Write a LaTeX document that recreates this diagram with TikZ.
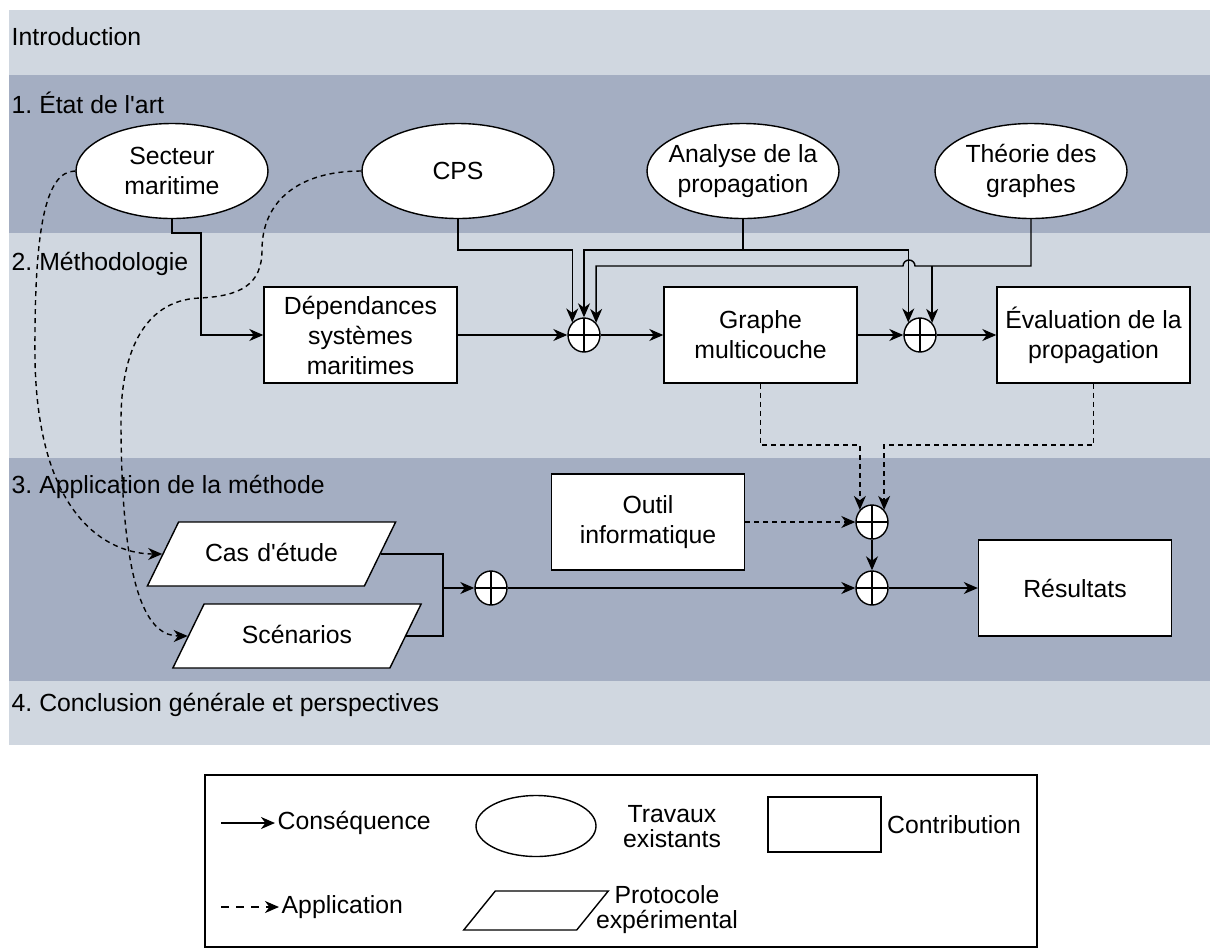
\documentclass[tikz,border=0pt]{standalone}
\usepackage{fontspec}
\setmainfont{Liberation Sans}
\usetikzlibrary{shapes.geometric, arrows.meta}

\definecolor{bandlight}{RGB}{208,215,224}
\definecolor{banddark}{RGB}{164,174,194}

\tikzset{
  bandlabel/.style={anchor=west, inner sep=1pt},
  travaux/.style={ellipse, draw, fill=white, minimum width=96pt, minimum height=47.5pt,
    inner xsep=-4pt, inner ysep=0pt, align=center},
  contrib/.style={rectangle, draw, fill=white, minimum width=96.5pt, minimum height=48pt,
    inner sep=0pt, align=center},
  protocole/.style={trapezium, trapezium left angle=64, trapezium right angle=116,
    draw, fill=white, text width=80pt, align=center, text height=9.5pt, text depth=2.5pt,
    inner xsep=6.45pt, inner ysep=10pt, minimum width=0pt, minimum height=0pt},
  somme/.style={ellipse, draw, fill=white, minimum width=16pt, minimum height=17pt, inner sep=0pt,
    path picture={\draw (path picture bounding box.north) -- (path picture bounding box.south)
      (path picture bounding box.west) -- (path picture bounding box.east);}},
  conseq/.style={-{Stealth[length=7pt, width=6pt, inset=2.2pt]}},
  applic/.style={conseq, dash pattern=on 2.5pt off 2pt},
}

\begin{document}
\frenchspacing
\begin{tikzpicture}[x=0.5pt, y=-0.5pt,
                    line width=0.7pt,
                    font=\fontsize{12.4}{15}\selectfont]
  \useasboundingbox (0,0) rectangle (1210,949);

  % bandes des chapitres
  \fill[bandlight] (9,10) rectangle (1210,75);
  \fill[banddark] (9,75) rectangle (1210,233);
  \fill[bandlight] (9,233) rectangle (1210,458);
  \fill[banddark] (9,458) rectangle (1210,681);
  \fill[bandlight] (9,681) rectangle (1210,745);

  \node[bandlabel] (intro) at (9,37) {Introduction};
  \node[bandlabel] (etat) at (9,103) {1. État de l\textquotesingle art};
  \node[bandlabel] (metho) at (9,264) {2. Méthodologie};
  \node[bandlabel] (appli) at (9,487) {3. Application de la méthode};
  \node[bandlabel] (concl) at (9,705) {4. Conclusion générale et perspectives};

  % travaux existants
  \node[travaux] (secteur) at (172,171) {Secteur\\maritime};
  \node[travaux] (cps) at (458,171) {CPS};
  \node[travaux] (analyse) at (743,171) {Analyse de la\\propagation};
  \node[travaux] (theorie) at (1031,171) {Théorie des\\graphes};

  % methodologie
  \node[contrib] (dependances) at (360.5,335) {Dépendances\\systèmes\\maritimes};
  \node[somme] (sum1) at (584,335) {};
  \node[contrib] (graphe) at (760.5,335) {Graphe\\multicouche};
  \node[somme] (sum2) at (920,335) {};
  \node[contrib] (evaluation) at (1093.5,335) {Évaluation de la\\propagation};

  % application
  \node[protocole] (cas) at (271.5,554) {Cas d\textquotesingle étude};
  \node[protocole] (scenarios) at (297,636) {Scénarios};
  \coordinate (jonction) at (443,588);
  \node[somme] (sum5) at (491,588) {};
  \node[contrib] (outil) at (648,522) {Outil\\informatique};
  \node[somme] (sum3) at (872,522) {};
  \node[somme] (sum4) at (872,588) {};
  \node[contrib] (resultats) at (1075,588) {Résultats};

  % consequences
  \draw[conseq] (secteur.south) -- (secteur.south |- 0,233) -| (201,335) -- (dependances.west);
  \draw[conseq] (cps.south) -- (cps.south |- 0,250) -| (sum1.133);
  \draw[conseq] (analyse.south) -- (analyse.south |- 0,250) -| (sum1.north);
  \draw[conseq] (analyse.south |- 0,250) -| (sum2.133);
  \draw[conseq] (theorie.south) -- (theorie.south |- 0,266) -- (915,266)
    arc[start angle=0, end angle=180, radius=3pt] -- (sum1.45 |- 0,266) -- (sum1.45);
  \draw[conseq] (sum2.45 |- 0,266) -- (sum2.45);
  \draw[conseq] (dependances) -- (sum1);
  \draw[conseq] (sum1) -- (graphe);
  \draw[conseq] (graphe) -- (sum2);
  \draw[conseq] (sum2) -- (evaluation);
  \draw (cas.east) -| (jonction);
  \draw (scenarios.east) -| (jonction);
  \draw[conseq] (jonction) -- (sum5);
  \draw[conseq] (sum5) -- (sum4);
  \draw[conseq] (sum3) -- (sum4);
  \draw[conseq] (sum4) -- (resultats);

  % applications
  \draw[applic] (graphe.south) -- (graphe.south |- 0,445) -| (sum3.135);
  \draw[applic] (evaluation.south) -- (evaluation.south |- 0,445) -| (sum3.45);
  \draw[applic] (outil) -- (sum3);
  \draw[applic] (secteur.west) .. controls (45,171) and (34,230) .. (35,360)
    .. controls (38,520) and (110,554) .. (cas.west);
  \draw[applic] (cps.west) .. controls (300,171) and (262,200) .. (262,250)
    .. controls (262,285) and (240,296) .. (200,298)
    .. controls (140,300) and (121,360) .. (121,420)
    .. controls (121,600) and (150,636) .. (scenarios.west);

  % legende
  \draw (205,775) rectangle (1037,947);
  \coordinate (legconseq) at (221,823);
  \node[anchor=west, inner sep=1pt] (consequence) at (275,823) {Conséquence};
  \draw[conseq, line width=1pt] (legconseq) -- (consequence.west);
  \node[travaux, minimum width=60pt, minimum height=30.5pt, inner sep=1pt] (legtravaux) at (536,826) {};
  \node[align=center, font=\fontsize{12.4}{12.5}\selectfont] (legtravauxtxt) at (672,827) {Travaux\\existants};
  \node[contrib, minimum width=56.5pt, minimum height=27.5pt] (legcontrib) at (824.5,824.5) {};
  \node (legcontribtxt) at (954,825) {Contribution};
  \coordinate (legapplic) at (221,907);
  \node[anchor=west, inner sep=1pt] (application) at (279,907) {Application};
  \draw[applic, line width=1pt, dash pattern=on 4pt off 3.5pt] (legapplic) -- (application.west);
  \node[protocole, trapezium left angle=51, trapezium right angle=129,
        text width=30pt, inner xsep=5.35pt, inner ysep=3.75pt] (legprotocole) at (536,910.5) {};
  \node[align=center, font=\fontsize{12.4}{12.5}\selectfont] (legprotocoletxt) at (667,910) {Protocole\\expérimental};
\end{tikzpicture}
\end{document}
